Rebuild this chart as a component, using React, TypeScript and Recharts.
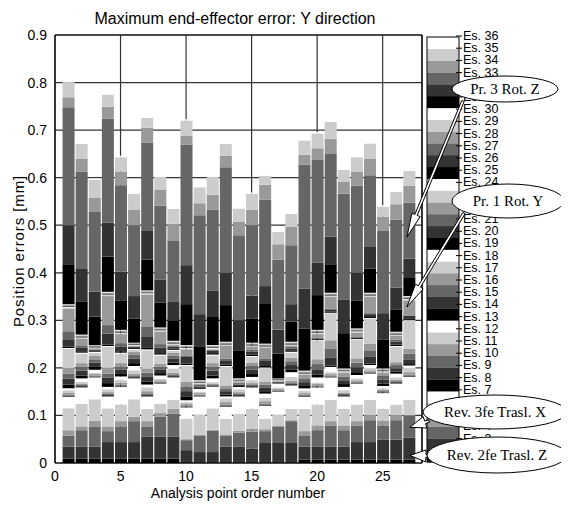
import React from 'react';
import { BarChart, Bar, XAxis, YAxis, CartesianGrid, ReferenceLine } from 'recharts';

// Analysis point order numbers
const POINTS = [1, 2, 3, 4, 5, 6, 7, 8, 9, 10, 11, 12, 13, 14, 15, 16, 17, 18, 19, 20, 21, 22, 23, 24, 25, 26, 27];

// Error contributions [mm], one array per error source (Es. 1 ... Es. 36)
const ES1 = [0.009, 0.009, 0.009, 0.009, 0.009, 0.009, 0.009, 0.009, 0.009, 0, 0, 0, 0, 0, 0, 0, 0, 0, 0.007, 0.007, 0.007, 0.007, 0.007, 0.007, 0.007, 0.007, 0.007];
const ES2 = [0.025, 0.025, 0.025, 0.035, 0.035, 0.035, 0.046, 0.046, 0.046, 0.027, 0.023, 0.023, 0.034, 0.034, 0.030, 0.042, 0.042, 0.042, 0.027, 0.027, 0.027, 0.027, 0.037, 0.037, 0.042, 0.042, 0.046];
const ES3 = [0.024, 0.035, 0.043, 0.023, 0.033, 0.044, 0.022, 0.042, 0.049, 0.021, 0.035, 0.045, 0.024, 0.030, 0.036, 0.025, 0.035, 0.046, 0.024, 0.035, 0.045, 0.035, 0.035, 0.046, 0.030, 0.041, 0.047];
const ES4 = [0.011, 0.008, 0.012, 0.010, 0.011, 0.009, 0.011, 0.008, 0.010, 0.002, 0.002, 0.002, 0.002, 0.004, 0.006, 0.004, 0.002, 0.002, 0.009, 0.010, 0.009, 0.010, 0.009, 0.010, 0.010, 0.010, 0];
const ES5 = [0.046, 0.047, 0.045, 0.038, 0.035, 0.037, 0.026, 0.019, 0.019, 0.043, 0.042, 0.045, 0.033, 0.035, 0.042, 0.022, 0.023, 0.024, 0.047, 0.044, 0.045, 0.035, 0.035, 0.033, 0.025, 0.023, 0.033];
const ES6 = [0.024, 0.035, 0.046, 0.025, 0.037, 0.044, 0.026, 0.043, 0.047, 0.024, 0.038, 0.045, 0.025, 0.037, 0.045, 0.027, 0.048, 0.049, 0.025, 0.036, 0.047, 0.026, 0.044, 0.055, 0.033, 0.044, 0.048];
const ES7 = [0.001, 0.001, 0.001, 0.001, 0.001, 0.001, 0.001, 0.001, 0.001, 0.001, 0.001, 0.001, 0.001, 0.001, 0.001, 0.001, 0.001, 0.001, 0.001, 0.001, 0.001, 0.001, 0.001, 0.001, 0.001, 0.001, 0.001];
const ES8 = [0.002, 0.002, 0.001, 0.002, 0.002, 0.002, 0.002, 0.001, 0.002, 0.001, 0.001, 0.001, 0.002, 0.002, 0.002, 0.002, 0.001, 0.002, 0.002, 0.001, 0.001, 0.002, 0.001, 0.001, 0.001, 0.002, 0.002];
const ES9 = [0.002, 0.002, 0.002, 0.002, 0.002, 0.002, 0.002, 0.002, 0.002, 0.002, 0.002, 0.002, 0.002, 0.002, 0.002, 0.002, 0.001, 0.002, 0.002, 0.002, 0.002, 0.002, 0.002, 0.002, 0.002, 0.002, 0.002];
const ES10 = [0.004, 0.003, 0.003, 0.004, 0.004, 0.005, 0.006, 0.003, 0.005, 0.003, 0.003, 0.003, 0.005, 0.004, 0.004, 0.005, 0.003, 0.005, 0.003, 0.003, 0.003, 0.003, 0.003, 0.003, 0.003, 0.003, 0.005];
const ES11 = [0.005, 0.004, 0.003, 0.006, 0.006, 0.007, 0.008, 0.003, 0.008, 0.004, 0.003, 0.003, 0.008, 0.006, 0.006, 0.007, 0.003, 0.008, 0.005, 0.003, 0.004, 0.005, 0.004, 0.004, 0.003, 0.005, 0.008];
const ES12 = [0.004, 0.007, 0.006, 0.005, 0.007, 0.009, 0.006, 0.007, 0.008, 0.004, 0.006, 0.008, 0.004, 0.005, 0.007, 0.009, 0.008, 0.010, 0.005, 0.011, 0.011, 0.007, 0.007, 0.007, 0.005, 0.008, 0.006];
const ES13 = [0.008, 0.006, 0.006, 0.008, 0.005, 0.006, 0.006, 0.005, 0.005, 0.007, 0.002, 0.006, 0.004, 0.002, 0.006, 0.005, 0.001, 0.006, 0.005, 0.006, 0.003, 0.006, 0.006, 0.003, 0.005, 0.004, 0.003];
const ES14 = [0.012, 0.010, 0.009, 0.012, 0.009, 0.009, 0.010, 0.008, 0.008, 0.012, 0.003, 0.010, 0.007, 0.003, 0.009, 0.007, 0.002, 0.009, 0.008, 0.011, 0.016, 0.008, 0.010, 0.014, 0.008, 0.007, 0.010];
const ES15 = [0.011, 0.008, 0.007, 0.008, 0.007, 0.008, 0.009, 0.006, 0.007, 0.010, 0.003, 0.008, 0.006, 0.003, 0.008, 0.007, 0.001, 0.008, 0.008, 0.011, 0.020, 0.008, 0.010, 0.014, 0.008, 0.007, 0.012];
const ES16 = [0.012, 0.008, 0.008, 0.012, 0.007, 0.007, 0.008, 0.006, 0.006, 0.010, 0.002, 0.008, 0.006, 0.002, 0.007, 0.006, 0.001, 0.007, 0.007, 0.010, 0.017, 0.008, 0.009, 0.014, 0.007, 0.006, 0.010];
const ES17 = [0.040, 0.020, 0.006, 0.044, 0.020, 0.004, 0.039, 0.017, 0.004, 0.033, 0.001, 0.016, 0.039, 0.001, 0.012, 0.028, 0.001, 0.011, 0.002, 0.040, 0.057, 0.002, 0.040, 0.053, 0.002, 0.032, 0.060];
const ES18 = [0.002, 0.002, 0.002, 0.002, 0.002, 0.002, 0.002, 0.002, 0.002, 0.002, 0.001, 0.002, 0.002, 0.001, 0.002, 0.002, 0.001, 0.002, 0.001, 0.001, 0.001, 0.001, 0.001, 0.001, 0.001, 0.002, 0.001];
const ES19 = [0.003, 0.003, 0.002, 0.003, 0.003, 0.002, 0.003, 0.003, 0.003, 0.003, 0.001, 0.003, 0.003, 0.001, 0.003, 0.003, 0.001, 0.003, 0.001, 0.002, 0.002, 0.001, 0.002, 0.002, 0.001, 0.003, 0.002];
const ES20 = [0.015, 0.007, 0.002, 0.023, 0.010, 0.002, 0.023, 0.012, 0.004, 0.014, 0.001, 0.005, 0.009, 0.001, 0.006, 0.012, 0.001, 0.004, 0.001, 0.001, 0.004, 0.001, 0.001, 0.006, 0.001, 0.006, 0.007];
const ES21 = [0.017, 0.004, 0.001, 0.018, 0.007, 0.001, 0.021, 0.007, 0.002, 0.003, 0.001, 0.002, 0.003, 0.001, 0.004, 0.004, 0.001, 0.003, 0.001, 0.001, 0.003, 0.001, 0.001, 0.002, 0.001, 0.004, 0];
const ES22 = [0.048, 0.015, 0.002, 0.061, 0.019, 0.001, 0.068, 0.026, 0.001, 0.013, 0.001, 0.001, 0.027, 0.001, 0.006, 0.022, 0.001, 0.002, 0.001, 0.008, 0.024, 0.001, 0.009, 0.034, 0.001, 0.008, 0.032];
const ES23 = [0.002, 0.002, 0.001, 0.002, 0.002, 0.001, 0.002, 0.002, 0.002, 0.002, 0.001, 0.002, 0.002, 0.001, 0.002, 0.002, 0, 0.002, 0.001, 0.002, 0.002, 0.001, 0.002, 0.002, 0.001, 0.002, 0.002];
const ES24 = [0.001, 0.001, 0.001, 0.001, 0.001, 0.001, 0.001, 0.001, 0.001, 0.001, 0.001, 0.001, 0.001, 0.001, 0.001, 0.001, 0, 0.001, 0.001, 0.001, 0.001, 0.001, 0.001, 0.001, 0.001, 0.001, 0.001];
const ES25 = [0.001, 0.001, 0.001, 0.001, 0.001, 0.001, 0.001, 0.001, 0.001, 0.001, 0, 0.001, 0.001, 0, 0.001, 0.001, 0, 0.001, 0.001, 0.001, 0.001, 0, 0.001, 0.001, 0, 0.001, 0.001];
const ES26 = [0.001, 0.001, 0.001, 0.001, 0.001, 0.001, 0.001, 0.001, 0.001, 0.001, 0, 0.001, 0.001, 0, 0.001, 0.001, 0, 0.001, 0, 0.001, 0.001, 0, 0.001, 0.001, 0, 0.001, 0.001];
const ES27 = [0.001, 0.001, 0.001, 0.001, 0.001, 0.001, 0.001, 0.001, 0.001, 0.001, 0, 0.001, 0.001, 0, 0.001, 0.001, 0, 0.001, 0, 0.001, 0.001, 0, 0.001, 0.001, 0, 0.001, 0.001];
const ES28 = [0.001, 0.001, 0.001, 0.001, 0.001, 0.001, 0.001, 0.001, 0.001, 0.001, 0, 0.001, 0.001, 0, 0.001, 0.001, 0, 0.001, 0, 0.001, 0.001, 0, 0.001, 0.001, 0, 0.001, 0.001];
const ES29 = [0.001, 0.001, 0.001, 0.001, 0.001, 0.001, 0.001, 0.001, 0.001, 0.001, 0, 0.001, 0.001, 0, 0.001, 0.001, 0, 0.001, 0, 0.001, 0.001, 0, 0.001, 0.001, 0, 0.001, 0.001];
const ES30 = [0.001, 0.001, 0, 0.001, 0.001, 0, 0.001, 0.001, 0.001, 0.001, 0, 0.001, 0.001, 0, 0.001, 0.001, 0, 0.001, 0, 0.001, 0.001, 0, 0.001, 0.001, 0, 0.001, 0.001];
const ES31 = [0.084, 0.070, 0.060, 0.074, 0.062, 0.051, 0.065, 0.052, 0.042, 0.086, 0.070, 0.059, 0.077, 0.059, 0.051, 0.085, 0.052, 0.042, 0.088, 0.073, 0.060, 0.074, 0.059, 0.051, 0.060, 0.046, 0.038];
const ES32 = [0.082, 0.068, 0.052, 0.071, 0.060, 0.047, 0.060, 0.049, 0.041, 0.082, 0.069, 0.056, 0.068, 0.063, 0.048, 0.036, 0.050, 0.037, 0.084, 0.068, 0.058, 0.071, 0.058, 0.047, 0.056, 0.047, 0.041];
const ES33 = [0.248, 0.205, 0.168, 0.219, 0.182, 0.149, 0.186, 0.155, 0.127, 0.253, 0.208, 0.170, 0.222, 0.179, 0.148, 0.182, 0.148, 0.124, 0.260, 0.216, 0.174, 0.222, 0.183, 0.149, 0.173, 0.143, 0.117];
const ES34 = [0.021, 0.026, 0.029, 0.025, 0.029, 0.033, 0.031, 0.033, 0.036, 0.019, 0.025, 0.031, 0.024, 0.028, 0.032, 0.031, 0.032, 0.038, 0.021, 0.025, 0.032, 0.026, 0.030, 0.034, 0.030, 0.032, 0.036];
const ES35 = [0.031, 0.032, 0.038, 0.026, 0.030, 0.033, 0.021, 0.028, 0.031, 0.032, 0.034, 0.038, 0.025, 0.028, 0.034, 0.019, 0.026, 0.028, 0.030, 0.031, 0.035, 0.024, 0.030, 0.033, 0.021, 0.026, 0.031];
const ES36 = [0.003, 0.003, 0.003, 0.003, 0.003, 0.003, 0.003, 0.003, 0.003, 0.003, 0.003, 0.003, 0.003, 0.003, 0.003, 0.003, 0.003, 0.003, 0.003, 0.003, 0.003, 0.003, 0.003, 0.003, 0.003, 0.003, 0.003];

const SERIES = [
  ES1, ES2, ES3, ES4, ES5, ES6, ES7, ES8, ES9, ES10, ES11, ES12,
  ES13, ES14, ES15, ES16, ES17, ES18, ES19, ES20, ES21, ES22, ES23, ES24,
  ES25, ES26, ES27, ES28, ES29, ES30, ES31, ES32, ES33, ES34, ES35, ES36,
];
const SERIES_NAMES = SERIES.map((_, i) => `Es. ${i + 1}`);

const X_TICKS = [0, 5, 10, 15, 20, 25];
const Y_TICKS = [0, 0.1, 0.2, 0.3, 0.4, 0.5, 0.6, 0.7, 0.8, 0.9];
const X_MAX = 28;
const Y_MAX = 0.9;

const TITLE = 'Maximum end-effector error: Y direction';
const X_LABEL = 'Analysis point order number';
const Y_LABEL = 'Position errors [mm]';

// Callouts: label, pointed bar, pointed value
const CALLOUT_TEXT = ['Pr. 3  Rot. Z', 'Pr. 1  Rot. Y', 'Rev. 3fe Trasl. X', 'Rev. 2fe Trasl. Z'];
const CALLOUT_POINT = [27, 27, 27, 27];
const CALLOUT_VALUE = [0.475, 0.328, 0.075, 0.016];

// Styles / layout
const GRAYS = ['#000000', '#333333', '#666666', '#999999', '#cccccc', '#ffffff'];
const W = 561;
const H = 503;
const M = { top: 27, right: 147, bottom: 18, left: 0 };
const Y_AXIS_W = 47;
const X_AXIS_H = 30;
const PLOT_L = M.left + Y_AXIS_W;
const PLOT_R = W - M.right;
const PLOT_T = M.top;
const PLOT_B = H - M.bottom - X_AXIS_H;
const xPx = (v: number) => PLOT_L + (v / X_MAX) * (PLOT_R - PLOT_L);
const yPx = (v: number) => PLOT_T + ((Y_MAX - v) / Y_MAX) * (PLOT_B - PLOT_T);

const SANS = '"Liberation Sans", Arial, sans-serif';
const SERIF = '"Liberation Serif", "Times New Roman", serif';

const data = POINTS.map((p, j) => {
  const row: Record<string, number> = { x: p };
  SERIES.forEach((s, i) => {
    row[`es${i + 1}`] = s[j];
  });
  return row;
});

const CALLOUT_GEOM = [
  { cx: 497, cy: 81, rx: 53, ry: 13, sx: 455, sy: 93, dx: -2, head: 24, hw: 4.5 },
  { cx: 500, cy: 193, rx: 56, ry: 17, sx: 456, sy: 205, dx: -2, head: 24, hw: 4.5 },
  { cx: 487, cy: 404, rx: 72, ry: 17, sx: 421, sy: 413, dx: 1, head: 16, hw: 6 },
  { cx: 489, cy: 447, rx: 70, ry: 18, sx: 421, sy: 448, dx: 1, head: 16, hw: 6 },
];

function Arrow({ x1, y1, x2, y2, head, hw }: { x1: number; y1: number; x2: number; y2: number; head: number; hw: number }) {
  const dx = x2 - x1;
  const dy = y2 - y1;
  const len = Math.sqrt(dx * dx + dy * dy);
  const ux = dx / len;
  const uy = dy / len;
  const bx = x2 - ux * head;
  const by = y2 - uy * head;
  const px = -uy;
  const py = ux;
  const pts = `${x2},${y2} ${bx + px * hw},${by + py * hw} ${bx + px * 1.3},${by + py * 1.3} ${x1 + px * 1.3},${y1 + py * 1.3} ${x1 - px * 1.3},${y1 - py * 1.3} ${bx - px * 1.3},${by - py * 1.3} ${bx - px * hw},${by - py * hw}`;
  return <polygon points={pts} fill="#ffffff" stroke="#000000" strokeWidth={1} strokeLinejoin="miter" />;
}

function Overlay() {
  const boxL = 419;
  const boxR = 451;
  const boxT = 29;
  const boxB = 454;
  const n = SERIES_NAMES.length;
  const bandH = (boxB - boxT) / n;
  const labT = 28;
  const labB = 455;
  const labStep = (labB - labT) / (n - 1);
  return (
    <svg width={W} height={H} style={{ position: 'absolute', left: 0, top: 0, pointerEvents: 'none' }}>
      <text x={227} y={16} textAnchor="middle" fontFamily={SANS} fontSize={16} fill="#000">{TITLE}</text>
      <text x={230} y={490} textAnchor="middle" fontFamily={SANS} fontSize={14} fill="#000">{X_LABEL}</text>
      <text x={10} y={243} textAnchor="middle" dominantBaseline="central" transform="rotate(-90 10 243)" fontFamily={SANS} fontSize={15} letterSpacing={0.9} fill="#000">{Y_LABEL}</text>

      {/* colour-bar legend */}
      {SERIES_NAMES.map((name, i) => {
        const k = n - 1 - i;
        return <rect key={name} x={boxL} y={boxT + k * bandH} width={boxR - boxL} height={bandH + 0.3} fill={GRAYS[i % 6]} />;
      })}
      <rect x={boxL} y={boxT} width={boxR - boxL} height={boxB - boxT} fill="none" stroke="#000" strokeWidth={1} />
      {SERIES_NAMES.map((name, i) => {
        const k = n - 1 - i;
        const y = labT + k * labStep;
        return (
          <g key={`l${name}`}>
            <line x1={boxR - 3} x2={boxR + 3} y1={y} y2={y} stroke="#000" strokeWidth={1} />
            <text x={boxR + 4} y={y} dominantBaseline="central" fontFamily={SANS} fontSize={12.5} fill="#000">{name}</text>
          </g>
        );
      })}

      {/* callouts */}
      {CALLOUT_TEXT.map((t, i) => {
        const g = CALLOUT_GEOM[i];
        return (
          <g key={t}>
            <Arrow x1={g.sx} y1={g.sy} x2={xPx(CALLOUT_POINT[i]) + g.dx} y2={yPx(CALLOUT_VALUE[i])} head={g.head} hw={g.hw} />
            <ellipse cx={g.cx} cy={g.cy} rx={g.rx} ry={g.ry} fill="#ffffff" stroke="#000" strokeWidth={1} />
            <text x={g.cx} y={g.cy} textAnchor="middle" dominantBaseline="central" fontFamily={SERIF} fontSize={15} fill="#000">{t}</text>
          </g>
        );
      })}
    </svg>
  );
}

export default function App() {
  return (
    <div style={{ position: 'relative', width: W, height: H, background: '#fff' }}>
      <BarChart width={W} height={H} data={data} margin={M} barGap={0}>
        <CartesianGrid stroke="#333" strokeWidth={1.2} />
        <XAxis
          type="number"
          dataKey="x"
          domain={[0, X_MAX]}
          ticks={X_TICKS}
          height={X_AXIS_H}
          tickLine={false}
          axisLine={{ stroke: '#000', strokeWidth: 1.2 }}
          tick={{ fontSize: 14, fill: '#000', fontFamily: SANS }}
          interval={0}
          allowDecimals={false}
        />
        <YAxis
          type="number"
          domain={[0, Y_MAX]}
          ticks={Y_TICKS}
          width={Y_AXIS_W}
          tickLine={false}
          axisLine={{ stroke: '#000', strokeWidth: 1.2 }}
          tick={{ fontSize: 14, fill: '#000', fontFamily: SANS }}
          tickFormatter={(v: number) => (v === 0 ? '0' : v.toFixed(1))}
          interval={0}
          allowDataOverflow
        />
        {SERIES.map((_, i) => (
          <Bar
            key={SERIES_NAMES[i]}
            dataKey={`es${i + 1}`}
            name={SERIES_NAMES[i]}
            stackId="s"
            fill={GRAYS[i % 6]}
            barSize={12}
            isAnimationActive={false}
          />
        ))}
        <ReferenceLine x={X_MAX} stroke="#000" strokeWidth={1.2} />
        <ReferenceLine y={Y_MAX} stroke="#000" strokeWidth={1.2} />
      </BarChart>
      <Overlay />
    </div>
  );
}
